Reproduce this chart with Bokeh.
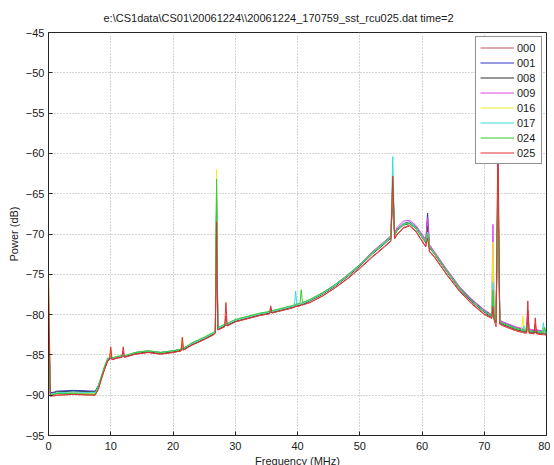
from bokeh.plotting import figure
from bokeh.models import FixedTicker, Legend, LegendItem, Spacer
from bokeh.layouts import row
from bokeh.embed import file_html
from bokeh.resources import INLINE

TITLE = r"e:\CS1data\CS01\20061224\\20061224_170759_sst_rcu025.dat time=2"
X_LABEL = "Frequency (MHz)"
Y_LABEL = "Power (dB)"
X_TICKS = [0, 10, 20, 30, 40, 50, 60, 70, 80]
Y_TICKS = [-95, -90, -85, -80, -75, -70, -65, -60, -55, -50, -45]

SERIES_NAMES = ["000", "001", "008", "009", "016", "017", "024", "025"]
SERIES_COLORS = ["#bb5555", "#3333cc", "#333333", "#dd44dd",
                 "#eeee22", "#33dddd", "#33cc33", "#e03030"]

FREQ = [0.0, 0.3, 1.0, 1.3, 4.0, 7.5, 8.0, 8.5, 9.0, 9.5,
        9.8, 10.0, 10.2, 11.0, 11.8, 12.0, 12.2, 14.0, 16.0, 18.0,
        20.0, 21.3, 21.5, 21.7, 23.0, 25.0, 26.5, 26.8, 27.0, 27.2,
        27.5, 28.3, 28.5, 28.7, 30.0, 32.0, 34.0, 35.5, 35.7, 35.9,
        38.0, 39.5, 39.7, 39.9, 40.4, 40.6, 40.8, 42.0, 44.0, 46.0,
        48.0, 50.0, 52.0, 54.0, 55.0, 55.3, 55.6, 56.0, 57.0, 58.0,
        59.0, 60.0, 60.6, 60.9, 61.2, 62.0, 63.0, 64.0, 66.0, 68.0,
        70.0, 71.0, 71.2, 71.4, 71.6, 71.9, 72.2, 72.5, 73.0, 74.0,
        75.0, 76.0, 76.2, 76.4, 76.8, 77.0, 77.2, 78.0, 78.2, 78.4,
        79.3, 79.5, 79.7, 80.0]

P000 = [-78.0, -90.1, -90.1, -90.0, -89.9, -90.0, -89.2, -88.0, -86.8, -85.8,
        -85.6, -84.4, -85.6, -85.4, -85.3, -84.6, -85.3, -84.9, -84.7, -84.9,
        -84.7, -84.5, -83.6, -84.4, -83.8, -83.1, -82.5, -82.3, -66.0, -81.9,
        -81.8, -81.5, -80.2, -81.4, -80.9, -80.5, -80.1, -79.9, -78.9, -79.8,
        -79.4, -79.1, -79.0, -79.0, -78.9, -78.8, -78.8, -78.5, -77.7, -76.7,
        -75.5, -74.2, -72.8, -71.5, -70.8, -64.0, -70.5, -70.0, -69.2, -68.9,
        -69.6, -70.8, -71.5, -69.5, -72.1, -72.8, -73.9, -75.0, -77.0, -78.6,
        -79.9, -80.3, -80.4, -78.0, -80.6, -81.0, -62.0, -81.1, -81.3, -81.6,
        -81.9, -82.1, -82.1, -82.2, -82.2, -79.5, -82.2, -82.3, -81.2, -82.3,
        -82.4, -82.4, -82.4, -82.5]

P001 = [-80.0, -89.7, -89.6, -89.5, -89.4, -89.5, -88.8, -87.7, -86.6, -85.6,
        -85.5, -85.3, -85.5, -85.3, -85.2, -85.1, -85.2, -84.7, -84.5, -84.7,
        -84.5, -84.3, -84.2, -84.2, -83.6, -82.9, -82.3, -82.1, -65.5, -81.7,
        -81.6, -81.3, -81.2, -81.2, -80.7, -80.3, -79.9, -79.7, -79.6, -79.6,
        -79.2, -78.9, -78.8, -78.8, -78.7, -78.6, -78.6, -78.2, -77.4, -76.4,
        -75.2, -73.9, -72.4, -71.1, -70.4, -63.5, -70.0, -69.4, -68.7, -68.5,
        -69.1, -70.2, -70.9, -67.4, -71.5, -72.3, -73.4, -74.5, -76.6, -78.2,
        -79.5, -80.0, -80.1, -79.0, -80.3, -80.7, -64.0, -80.8, -81.0, -81.3,
        -81.6, -81.8, -81.8, -81.9, -81.9, -81.9, -81.9, -82.0, -82.0, -82.0,
        -82.1, -81.6, -82.1, -82.2]

P008 = [-82.0, -89.8, -89.7, -89.6, -89.5, -89.6, -88.9, -87.8, -86.7, -85.7,
        -85.5, -85.4, -85.5, -85.3, -85.2, -85.1, -85.2, -84.8, -84.6, -84.8,
        -84.6, -84.4, -84.3, -84.3, -83.7, -83.0, -82.4, -82.2, -67.0, -81.8,
        -81.7, -81.4, -81.3, -81.3, -80.8, -80.4, -80.0, -79.8, -79.7, -79.7,
        -79.3, -79.0, -78.9, -78.9, -78.8, -78.7, -78.7, -78.3, -77.5, -76.5,
        -75.3, -74.0, -72.5, -71.2, -70.5, -65.0, -70.2, -69.6, -68.9, -68.7,
        -69.3, -70.4, -71.1, -69.0, -71.7, -72.5, -73.6, -74.7, -76.8, -78.4,
        -79.7, -80.2, -80.3, -79.5, -80.5, -80.9, -65.0, -81.0, -81.2, -81.5,
        -81.8, -82.0, -82.0, -82.1, -82.1, -81.0, -82.1, -82.2, -82.2, -82.2,
        -82.3, -82.3, -82.3, -82.4]

P009 = [-80.0, -89.9, -89.9, -89.8, -89.7, -89.8, -89.0, -87.8, -86.6, -85.6,
        -85.5, -85.4, -85.5, -85.3, -85.2, -85.1, -85.2, -84.7, -84.5, -84.7,
        -84.5, -84.3, -84.2, -84.2, -83.6, -82.9, -82.3, -82.1, -66.5, -81.7,
        -81.6, -81.3, -81.2, -81.2, -80.7, -80.3, -79.9, -79.7, -79.6, -79.6,
        -79.2, -78.9, -78.8, -78.8, -78.7, -78.6, -78.6, -78.2, -77.3, -76.3,
        -75.1, -73.8, -72.2, -70.9, -70.2, -64.5, -69.8, -69.2, -68.4, -68.3,
        -68.9, -70.0, -70.7, -68.0, -71.3, -72.2, -73.3, -74.4, -76.5, -78.1,
        -79.4, -79.9, -80.0, -68.8, -80.2, -80.6, -60.0, -80.7, -80.9, -81.2,
        -81.5, -81.7, -81.7, -81.8, -81.8, -79.5, -81.8, -81.9, -81.9, -81.9,
        -82.0, -82.0, -82.0, -82.1]

P016 = [-74.0, -89.9, -89.8, -89.7, -89.7, -89.8, -89.0, -87.7, -86.5, -85.5,
        -85.4, -84.3, -85.4, -85.2, -85.1, -85.0, -85.1, -84.7, -84.5, -84.7,
        -84.5, -84.3, -82.8, -84.2, -83.6, -82.9, -82.3, -82.1, -62.0, -81.7,
        -81.6, -81.3, -81.2, -81.2, -80.7, -80.3, -79.9, -79.7, -79.6, -79.6,
        -79.2, -78.9, -78.8, -78.8, -78.7, -78.6, -78.6, -78.2, -77.4, -76.4,
        -75.2, -73.9, -72.4, -71.1, -70.4, -63.0, -70.1, -69.5, -68.8, -68.6,
        -69.2, -70.3, -71.0, -69.8, -71.6, -72.4, -73.5, -74.6, -76.7, -78.3,
        -79.6, -80.1, -80.2, -71.0, -80.4, -80.8, -63.0, -80.9, -81.1, -81.4,
        -81.7, -81.9, -80.2, -82.0, -82.0, -81.5, -82.0, -82.1, -82.1, -82.1,
        -82.2, -81.5, -82.2, -82.3]

P017 = [-80.0, -89.8, -89.8, -89.7, -89.6, -89.7, -88.9, -87.7, -86.5, -85.5,
        -85.4, -85.3, -85.4, -85.2, -85.1, -85.0, -85.1, -84.7, -84.5, -84.7,
        -84.5, -84.3, -84.2, -84.2, -83.6, -82.9, -82.3, -82.1, -64.0, -81.7,
        -81.6, -81.3, -81.2, -81.2, -80.7, -80.3, -79.9, -79.7, -79.6, -79.6,
        -79.2, -78.9, -77.1, -78.8, -78.7, -78.6, -78.6, -78.2, -77.4, -76.4,
        -75.2, -73.9, -72.4, -71.1, -70.4, -60.4, -70.1, -69.5, -68.8, -68.6,
        -69.2, -70.3, -71.0, -69.8, -71.6, -72.4, -73.5, -74.6, -76.7, -78.3,
        -79.6, -80.1, -80.2, -76.0, -80.4, -80.8, -65.0, -80.9, -81.1, -81.4,
        -81.7, -81.9, -81.9, -81.4, -82.0, -82.0, -82.0, -82.1, -82.1, -82.1,
        -82.2, -81.0, -82.2, -82.3]

P024 = [-81.0, -89.9, -89.9, -89.8, -89.8, -89.9, -89.0, -87.6, -86.4, -85.4,
        -85.4, -85.3, -85.4, -85.2, -85.1, -85.0, -85.1, -84.7, -84.5, -84.7,
        -84.5, -84.3, -84.2, -84.2, -83.5, -82.8, -82.2, -82.0, -63.2, -81.6,
        -81.5, -81.2, -81.1, -81.1, -80.6, -80.2, -79.8, -79.6, -79.5, -79.5,
        -79.1, -78.8, -78.7, -78.7, -78.6, -76.9, -78.5, -78.1, -77.3, -76.3,
        -75.1, -73.8, -72.3, -71.0, -70.3, -63.5, -70.1, -69.5, -68.8, -68.7,
        -69.3, -70.4, -71.0, -70.0, -71.6, -72.4, -73.5, -74.6, -76.7, -78.3,
        -79.6, -80.1, -80.2, -77.0, -80.4, -80.8, -64.0, -80.9, -81.1, -81.4,
        -81.7, -81.9, -81.9, -82.0, -82.0, -81.2, -82.0, -82.1, -82.1, -82.1,
        -82.2, -82.2, -81.6, -82.3]

P025 = [-75.5, -90.1, -90.0, -90.0, -89.9, -90.0, -89.3, -88.0, -86.8, -85.7,
        -85.6, -84.0, -85.6, -85.4, -85.3, -84.0, -85.3, -84.9, -84.7, -84.9,
        -84.7, -84.5, -82.8, -84.4, -83.8, -83.1, -82.5, -82.3, -68.5, -81.9,
        -81.8, -81.5, -78.5, -81.4, -80.9, -80.5, -80.1, -79.9, -79.1, -79.8,
        -79.4, -79.1, -79.0, -79.0, -78.9, -78.8, -78.8, -78.5, -77.7, -76.7,
        -75.6, -74.3, -72.9, -71.6, -70.9, -62.8, -70.6, -70.1, -69.3, -69.0,
        -69.7, -70.9, -71.6, -70.5, -72.2, -72.9, -74.0, -75.1, -77.1, -78.7,
        -80.0, -80.4, -80.5, -79.0, -80.7, -81.5, -57.0, -81.2, -81.4, -81.7,
        -82.0, -82.2, -82.2, -82.3, -82.3, -78.3, -82.3, -82.4, -80.4, -82.4,
        -82.5, -82.5, -82.5, -82.6]

SERIES_VALUES = [P000, P001, P008, P009, P016, P017, P024, P025]

FONT = "Liberation Sans"
AXIS_COLOR = "#262626"
TEXT_COLOR = "#1a1a1a"

p = figure(frame_width=498, frame_height=403, x_range=(0, 80), y_range=(-95, -45),
           output_backend="svg", toolbar_location=None,
           min_border_left=40, min_border_right=4, min_border_top=25,
           min_border_bottom=0)
p.background_fill_color = "white"
p.border_fill_color = "white"
p.outline_line_color = AXIS_COLOR
p.outline_line_width = 1

p.title.text = TITLE
p.title.align = "left"
p.title.offset = 55
p.title.text_font = FONT
p.title.text_font_size = "11px"
p.title.text_font_style = "normal"
p.title.text_color = TEXT_COLOR
p.title.standoff = 18

for ax in (p.xaxis[0], p.yaxis[0]):
    ax.major_label_text_font = FONT
    ax.major_label_text_font_size = "11px"
    ax.major_label_text_color = TEXT_COLOR
    ax.axis_label_text_font = FONT
    ax.axis_label_text_font_size = "11px"
    ax.axis_label_text_font_style = "normal"
    ax.axis_label_text_color = TEXT_COLOR
    ax.axis_line_color = AXIS_COLOR
    ax.major_tick_line_color = AXIS_COLOR
    ax.major_tick_in = 4
    ax.major_tick_out = 0
    ax.minor_tick_line_color = None

p.xaxis.ticker = FixedTicker(ticks=X_TICKS)
p.yaxis.ticker = FixedTicker(ticks=Y_TICKS)
p.xaxis.axis_label = X_LABEL
p.yaxis.axis_label = Y_LABEL
p.xaxis.major_label_standoff = 6
p.xaxis.axis_label_standoff = 2
p.yaxis.major_label_standoff = 4
p.yaxis.axis_label_standoff = 3

p.xgrid.ticker = FixedTicker(ticks=X_TICKS)
p.ygrid.ticker = FixedTicker(ticks=Y_TICKS)
p.grid.grid_line_color = "#a8a8a8"
p.grid.grid_line_dash = "1 2"
p.grid.grid_line_width = 1

items = []
for name, color, vals in zip(SERIES_NAMES, SERIES_COLORS, SERIES_VALUES):
    r = p.line(FREQ, vals, line_color=color, line_width=1)
    items.append(LegendItem(label=name, renderers=[r]))

legend = Legend(items=items, location="top_right")
legend.margin = 4
legend.padding = 4
legend.spacing = 2
legend.glyph_width = 34
legend.glyph_height = 13
legend.label_height = 13
legend.label_standoff = 3
legend.label_text_font = FONT
legend.label_text_font_size = "11px"
legend.label_text_color = TEXT_COLOR
legend.border_line_color = AXIS_COLOR
legend.border_line_width = 1
legend.background_fill_color = "white"
legend.background_fill_alpha = 1.0
p.add_layout(legend)

page = row(Spacer(width=4), p)

open("out.html", "w").write(file_html(page, INLINE))
